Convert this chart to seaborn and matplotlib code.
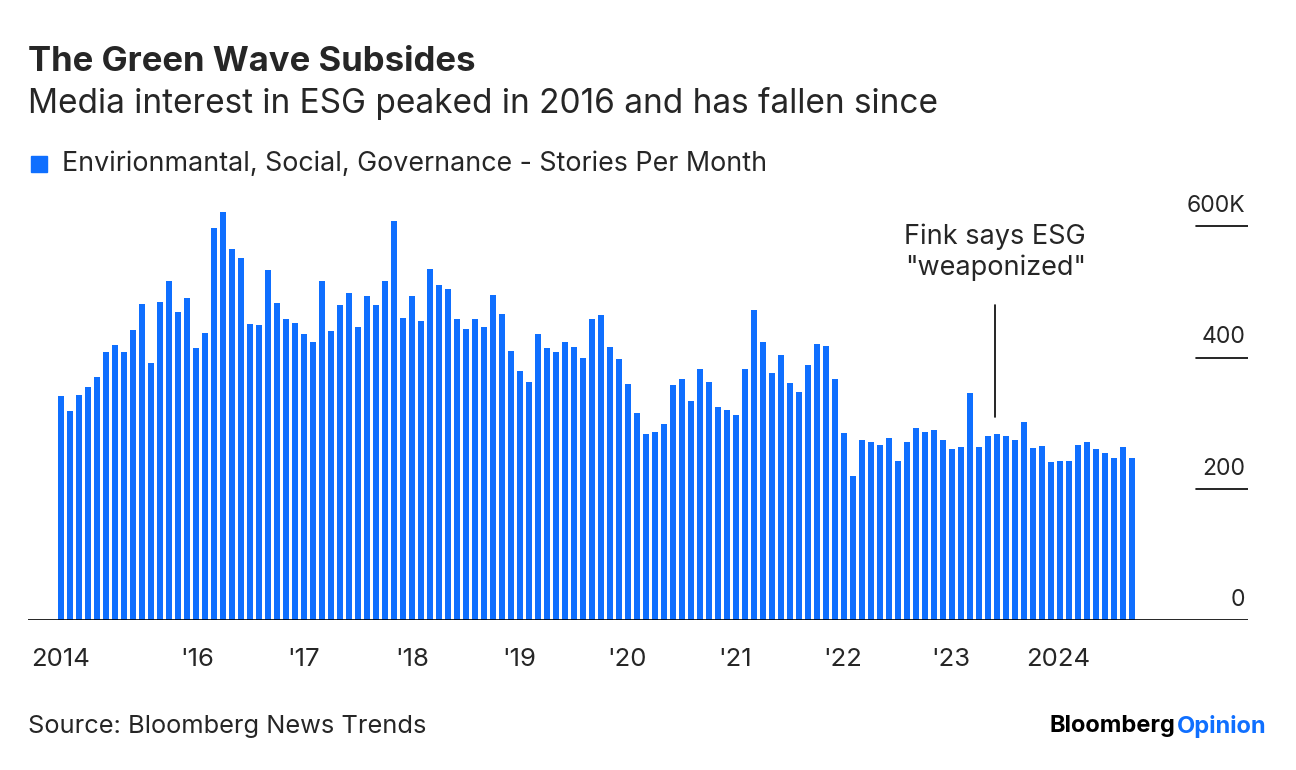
import matplotlib
matplotlib.use("Agg")
import matplotlib.pyplot as plt
import matplotlib.transforms as mtransforms
import seaborn as sns
import numpy as np

stories = [341,318,343,355,370,408,419,409,442,482,391,485,516,469,490,414,438,598,621,566,
           552,451,449,534,483,459,452,436,423,517,441,480,499,446,493,480,517,608,460,493,
           456,535,510,504,458,443,459,447,495,467,410,379,362,436,414,409,423,416,400,458,
           465,416,398,360,316,283,287,298,358,367,333,383,363,324,320,313,382,473,424,377,
           404,361,347,389,421,417,367,285,219,275,271,267,278,242,272,292,286,290,274,260,
           264,346,264,281,284,281,274,302,262,265,241,243,243,266,272,260,255,247,264,247]
tick_labels = ["2014", "'16", "'17", "'18", "'19", "'20", "'21", "'22", "'23", "2024"]
tick_pos = [0, 15.1, 27, 39, 50.9, 62.9, 74.9, 86.9, 98.9, 110.8]
y_ticks = [0, 200, 400, 600]
y_labels = ["0", "200", "400", "600K"]
annot_pos = 103.8
annot_text = "Fink says ESG\n\"weaponized\""

sns.set_theme(style="white")
plt.rcParams['font.family'] = ['Inter', 'DejaVu Sans']
BLUE = "#0f6fff"

fig = plt.figure(figsize=(12.96, 7.7), dpi=100)
ax = fig.add_axes([28/1296, 1-620/770, 1220/1296, 420/770])
idx = np.arange(len(stories))
sns.barplot(x=idx, y=stories, native_scale=True, color=BLUE, width=0.68,
            saturation=1, ax=ax, edgecolor="none")
ax.set_xlim(-3.67, 131.9)
ax.set_ylim(0, 640)
for s in ax.spines.values():
    s.set_visible(False)
ax.axhline(0, color="black", lw=1.2)
ax.set_yticks([])
ax.set_xticks(tick_pos)
ax.set_xticklabels(tick_labels, fontsize=18.5)
ax.tick_params(axis="x", length=6, width=1, color="black", pad=14)
ax.set_xlabel(""); ax.set_ylabel("")

trans = mtransforms.blended_transform_factory(ax.transAxes, ax.transData)
for v, lab in zip(y_ticks, y_labels):
    if v > 0:
        ax.plot([0.957, 1.0], [v, v], transform=trans, color="black", lw=1.2)
    ax.text(0.998, v + 14, lab, transform=trans, ha="right", va="bottom", fontsize=16.5)

ax.plot([annot_pos, annot_pos], [310, 480], color="black", lw=1.2)
ax.text(annot_pos, 560, annot_text, ha="center", va="center", fontsize=19.5, linespacing=1.2)

fig.text(28/1296, 1-62/770, "The Green Wave Subsides", fontsize=25, fontweight="bold", va="center")
fig.text(28/1296, 1-103/770, "Media interest in ESG peaked in 2016 and has fallen since", fontsize=24, va="center")
fig.patches.append(plt.Rectangle((31/1296, 1-172/770), 16/1296, 16/770, transform=fig.transFigure,
                                 color=BLUE, figure=fig))
fig.text(62/1296, 1-164/770, "Envirionmantal, Social, Governance - Stories Per Month", fontsize=19.3, va="center")
fig.text(28/1296, 1-727/770, "Source: Bloomberg News Trends", fontsize=18.3, va="center")
fig.text(1267/1296, 1-726/770, "Opinion", fontsize=17, fontweight="bold", color=BLUE, va="center", ha="right")
fig.text(1175/1296, 1-726/770, "Bloomberg", fontsize=17, fontweight="bold", color="black", va="center", ha="right")

fig.savefig("out.png", dpi=100)
